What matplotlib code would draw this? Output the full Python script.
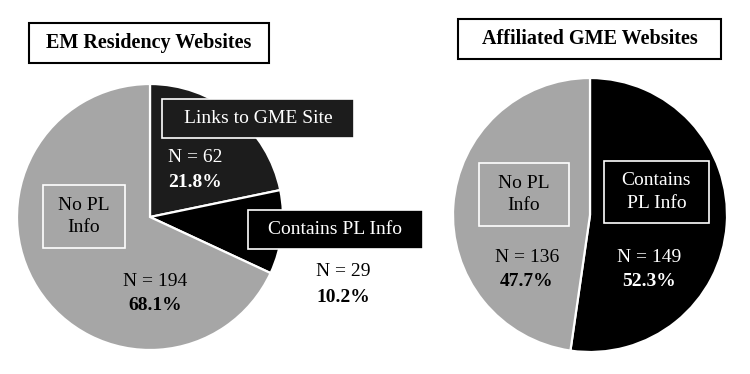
import matplotlib.pyplot as plt

plt.rcParams['font.family'] = ['Liberation Serif', 'DejaVu Serif']

# data
left_labels = ["Links to GME Site", "Contains PL Info", "No PL Info"]
left_counts = [62, 29, 194]
left_pcts = [21.8, 10.2, 68.1]
left_colors = ["#1c1c1c", "#000000", "#a6a6a6"]

right_labels = ["Contains PL Info", "No PL Info"]
right_counts = [149, 136]
right_pcts = [52.3, 47.7]
right_colors = ["#000000", "#a6a6a6"]

W, H = 750, 374
fig = plt.figure(figsize=(7.5, 3.74), dpi=100)
ax = fig.add_axes([0, 0, 1, 1])


def Y(y):
    # pixel row (from top) -> data y
    return H - y


ax.pie(left_counts, colors=left_colors, startangle=90, counterclock=False,
       center=(150, Y(217)), radius=133, frame=True,
       wedgeprops=dict(edgecolor="white", linewidth=1.6))
ax.pie(right_counts, colors=right_colors, startangle=90, counterclock=False,
       center=(590, Y(215)), radius=137, frame=True,
       wedgeprops=dict(edgecolor="white", linewidth=1.6))

ax.set_xlim(0, W)
ax.set_ylim(0, H)
ax.set_aspect("equal")
ax.axis("off")


def boxed(x0, y0, x1, y1, text, fc, ec, tc, size=14, bold=False, lw=1.2):
    ax.add_patch(plt.Rectangle((x0, Y(y1)), x1 - x0, y1 - y0, facecolor=fc,
                               edgecolor=ec, linewidth=lw, zorder=3))
    ax.text((x0 + x1) / 2, Y((y0 + y1) / 2), text, ha="center", va="center",
            color=tc, fontsize=size, fontweight="bold" if bold else "normal",
            linespacing=1.45, zorder=4)


def count_label(x, y, n, pct, color):
    ax.text(x, Y(y), f"N = {n}", ha="center", va="center", color=color,
            fontsize=14, zorder=4)
    ax.text(x, Y(y + 25), f"{pct}%", ha="center", va="center", color=color,
            fontsize=14, fontweight="bold", zorder=4)


# titles
boxed(29, 23, 269, 63, "EM Residency Websites", "white", "black", "black",
      size=14.5, bold=True, lw=1.5)
boxed(458, 19, 721, 59, "Affiliated GME Websites", "white", "black", "black",
      size=14.5, bold=True, lw=1.5)

# left pie labels
boxed(162, 99, 354, 138, left_labels[0], left_colors[0], "white", "white")
boxed(248, 210, 423, 249, left_labels[1], left_colors[1], "white", "white")
boxed(43, 185, 125, 248, "No PL\nInfo", left_colors[2], "white", "black")
ax.text(168, Y(157), f"N = {left_counts[0]}", ha="left", va="center",
        color="white", fontsize=14, zorder=4)
ax.text(168, Y(182), f"{left_pcts[0]}%", ha="left", va="center",
        color="white", fontsize=14, fontweight="bold", zorder=4)
count_label(343, 272, left_counts[1], left_pcts[1], "black")
count_label(155, 281, left_counts[2], left_pcts[2], "black")

# right pie labels
boxed(479, 163, 569, 226, "No PL\nInfo", right_colors[1], "white", "black")
boxed(604, 161, 709, 223, "Contains\nPL Info", right_colors[0], "white", "white")
count_label(527, 257, right_counts[1], right_pcts[1], "black")
count_label(649, 257, right_counts[0], right_pcts[0], "white")

fig.savefig("out.png", dpi=100)
